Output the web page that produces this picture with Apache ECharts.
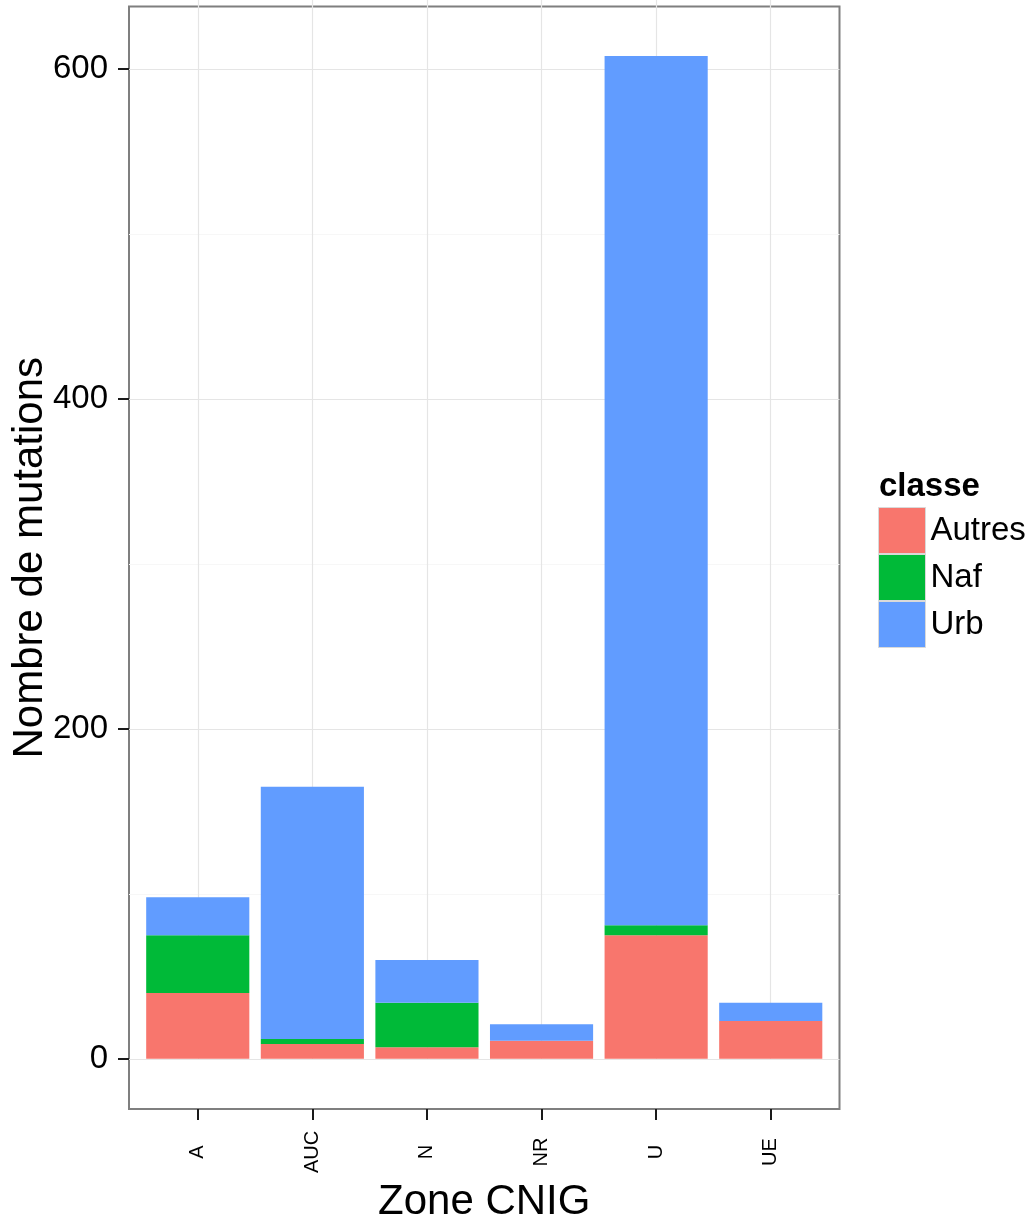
<!DOCTYPE html>
<html>
<head>
<meta charset="utf-8">
<script src="https://cdn.jsdelivr.net/npm/echarts@6/dist/echarts.min.js"></script>
<style>
html, body { margin: 0; padding: 0; background: #fff; }
#chart { width: 1033px; height: 1221px; }
</style>
</head>
<body>
<div id="chart"></div>
<script>
// données
var zones = ["A", "AUC", "N", "NR", "U", "UE"];
var autres = [40, 9, 7, 11, 75, 23];
var naf = [35, 3, 27, 0, 6, 0];
var urb = [23, 153, 26, 10, 527, 11];
var classes = ["Autres", "Naf", "Urb"];
var couleurs = ["#F8766D", "#00BA38", "#619CFF"];
var yTicks = [0, 200, 400, 600];
var yMinor = [100, 300, 500];

var yMin = -30.4, yMax = 638;
var font = "Liberation Sans, Arial, sans-serif";

// panneau ggplot : 6 categories + 0.6 d'expansion de chaque cote
var panel = { left: 129, top: 6.5, width: 710.5, height: 1102.5 };
var band = panel.width / 6.2;

var chart = echarts.init(document.getElementById("chart"));

function barSerie(name, values, color) {
  return {
    name: name,
    type: "bar",
    stack: "total",
    xAxisIndex: 2,
    yAxisIndex: 2,
    barWidth: "90%",
    itemStyle: { color: color },
    data: values
  };
}

var option = {
  animation: false,
  backgroundColor: "#fff",
  textStyle: { fontFamily: font },
  title: {
    text: "classe",
    left: 879,
    top: 470,
    padding: 0,
    textStyle: { fontSize: 33, fontWeight: "bold", color: "#000", fontFamily: font }
  },
  legend: {
    data: classes,
    orient: "vertical",
    left: 878,
    top: 507,
    padding: 0,
    itemGap: 0,
    itemWidth: 47,
    itemHeight: 46,
    icon: "rect",
    itemStyle: { borderColor: "#d9d9d9", borderWidth: 1 },
    textStyle: { fontSize: 33, color: "#000", fontFamily: font }
  },
  grid: [
    { left: panel.left, top: panel.top, width: panel.width, height: panel.height,
      outerBoundsMode: "none", containLabel: false,
      show: true, borderColor: "#7f7f7f", borderWidth: 2, backgroundColor: "transparent" },
    { left: panel.left + 0.1 * band, top: panel.top, width: 6 * band, height: panel.height,
      outerBoundsMode: "none", containLabel: false }
  ],
  xAxis: [
    { gridIndex: 0, type: "value", min: 0, max: 1, show: false, position: "bottom" },
    {
      gridIndex: 1, type: "category", data: zones, position: "bottom",
      axisLine: { show: false },
      axisTick: { show: true, inside: true, alignWithLabel: true, length: panel.height,
                  lineStyle: { color: "#e5e5e5", width: 1.2 } },
      axisLabel: { show: false },
      splitLine: { show: false }
    },
    {
      gridIndex: 1, type: "category", data: zones, position: "bottom",
      axisLine: { show: false },
      axisTick: { show: true, alignWithLabel: true, length: 11, lineStyle: { color: "#1a1a1a", width: 2 } },
      axisLabel: { rotate: 90, fontSize: 20, color: "#000", align: "center", verticalAlign: "middle",
                   margin: 43, fontFamily: font },
      splitLine: { show: false },
      name: "Zone CNIG",
      nameLocation: "middle",
      nameGap: 67,
      nameTextStyle: { fontSize: 42, color: "#000", fontFamily: font }
    }
  ],
  yAxis: [
    {
      gridIndex: 0, type: "value", min: yMin, max: yMax, position: "left",
      axisLine: { show: false },
      axisTick: { show: true, customValues: yTicks, length: 11, lineStyle: { color: "#1a1a1a", width: 2 } },
      axisLabel: { customValues: yTicks, fontSize: 33, color: "#000", margin: 21, fontFamily: font },
      splitLine: { show: true, lineStyle: { color: "#e5e5e5", width: 1.2 } },
      name: "Nombre de mutations",
      nameLocation: "middle",
      nameMoveOverlap: false,
      nameGap: 78,
      nameTextStyle: { fontSize: 42, color: "#000", fontFamily: font }
    },
    {
      gridIndex: 0, type: "value", min: yMin, max: yMax, position: "left",
      axisLine: { show: false },
      axisTick: { show: false, customValues: yMinor },
      axisLabel: { show: false, customValues: yMinor },
      splitLine: { show: true, lineStyle: { color: "#f7f7f7", width: 1.2 } }
    },
    { gridIndex: 1, type: "value", min: yMin, max: yMax, show: false, position: "left" }
  ],
  series: [
    barSerie(classes[0], autres, couleurs[0]),
    barSerie(classes[1], naf, couleurs[1]),
    barSerie(classes[2], urb, couleurs[2])
  ]
};

chart.setOption(option);
</script>
</body>
</html>
